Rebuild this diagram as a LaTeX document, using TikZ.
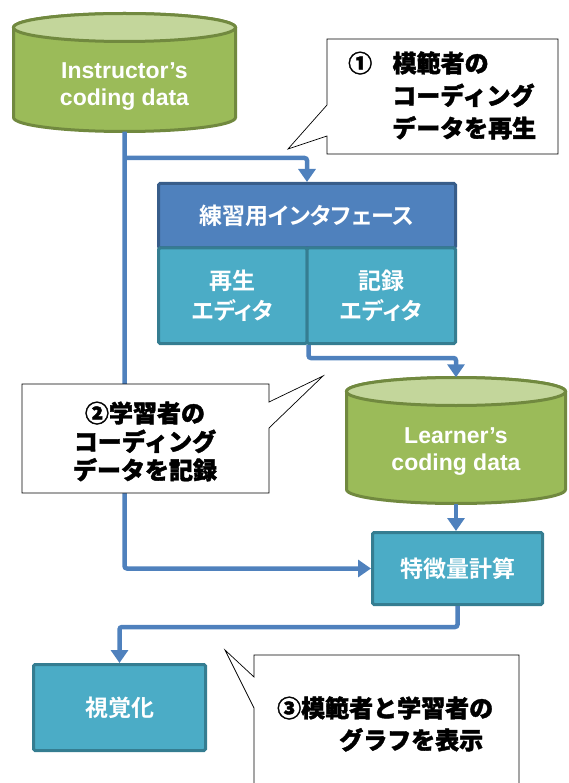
\documentclass[tikz,border=0pt]{standalone}
\usepackage{fontspec}
\setmainfont{Liberation Sans}
\newfontfamily\jpbox[RawFeature=+palt]{Noto Sans CJK JP Bold}
\newfontfamily\jpnote[FakeBold=1.6]{Noto Sans CJK JP Black}
\usepackage{tikz}
\usetikzlibrary{arrows.meta}

\definecolor{cylgreen}{HTML}{9BBB59}
\definecolor{cyltop}{HTML}{C3D69B}
\definecolor{cylline}{HTML}{71893F}
\definecolor{ifblue}{HTML}{4F81BD}
\definecolor{ifline}{HTML}{385D8A}
\definecolor{boxteal}{HTML}{4BACC6}
\definecolor{boxline}{HTML}{357D91}
\definecolor{flow}{HTML}{4F81BD}

\begin{document}
\begin{tikzpicture}[x=1pt, y=-1pt,
    box/.style={draw=boxline, fill=boxteal, line width=3pt, rounded corners=1.5pt,
        text=white, font=\jpbox\fontsize{23}{30}\selectfont, align=center, inner sep=0pt},
    head/.style={box, draw=ifline, fill=ifblue},
    cyl/.style={draw=none, inner sep=0pt},
    cyltext/.style={text=white, font=\bfseries\fontsize{23}{27}\selectfont, align=center, inner sep=0pt},
    flowline/.style={draw=flow, line width=4.5pt, rounded corners=2.5pt, -{Triangle[width=17pt,length=13pt]}},
    note/.style={draw=black, line width=0.7pt, fill=white},
    notetext/.style={font=\jpnote\fontsize{24}{#1}\selectfont, inner sep=0pt}]
    \useasboundingbox (0,0) rectangle (568,783);

    % Data stores
    \path[fill=cylgreen, draw=cylline, line width=3pt] (13.5,27.5) -- (13.5,117.5)
        arc[start angle=180, end angle=360, x radius=111pt, y radius=14pt] -- (235.5,27.5)
        arc[start angle=0, end angle=180, x radius=111pt, y radius=14pt] -- cycle;
    \path[fill=cyltop, draw=cylline, line width=3pt] (124.5,27.5) ellipse[x radius=111pt, y radius=14pt];
    \node[cyl, minimum width=222pt, minimum height=118pt] (inst) at (124.5,72.5) {};
    \node[cyltext] (instlbl) at (124.5,87) {Instructor’s\\coding data};

    \path[fill=cylgreen, draw=cylline, line width=3pt] (346.5,391.5) -- (346.5,489.5)
        arc[start angle=180, end angle=360, x radius=109.5pt, y radius=14pt] -- (565.5,391.5)
        arc[start angle=0, end angle=180, x radius=109.5pt, y radius=14pt] -- cycle;
    \path[fill=cyltop, draw=cylline, line width=3pt] (456,391.5) ellipse[x radius=109.5pt, y radius=14pt];
    \node[cyl, minimum width=219pt, minimum height=126pt] (lrn) at (456,440.5) {};
    \node[cyltext] (lrnlbl) at (456,452) {Learner’s\\coding data};

    % Nodes
    \node[head, minimum width=297pt, minimum height=64.5pt] (iface) at (307,215.75) {練習用インタフェース};
    \node[box, minimum width=148.5pt, minimum height=95.5pt] (play) at (232.75,295.75) {再生\\エディタ};
    \node[box, minimum width=148.5pt, minimum height=95.5pt] (rec) at (381.25,295.75) {記録\\エディタ};
    \node[box, minimum width=170pt, minimum height=72pt] (feat) at (457.5,568.5) {特徴量計算};
    \node[box, minimum width=172pt, minimum height=86pt] (vis) at (119.5,707.5) {視覚化};
    \coordinate (split) at (124.5,158);

    % Lines
    \draw[flowline] (inst.south) |- (feat.west);
    \draw[flowline] (split) -| (iface.north);
    \draw[flowline] (play.south east) -- (play.south east |- 0,358) -| (lrn.north);
    \draw[flowline] (lrn.south) -- (lrn.south |- feat.north);
    \draw[flowline] (feat.south) -- (feat.south |- 0,627) -| (vis.north);

    % Callouts
    \path[note] (327,39) -- (558,39) -- (558,154) -- (327,154) -- (327,136) -- (288,149) -- (327,105) -- cycle;
    \node[notetext=32.5, anchor=west, align=left] (note1) at (348,95.5)
        {①\hspace{20.5pt}模範者の\\\hspace*{44pt}コーディング\\\hspace*{44pt}データを再生};

    \path[note] (22,384) -- (269,384) -- (269,402) -- (323,376) -- (269,428) -- (269,493) -- (22,493) -- cycle;
    \node[notetext=28.5, align=center] (note2) at (145,441.5) {②学習者の\\コーディング\\データを記録};

    \path[note] (254,800) -- (254,708) -- (225,650) -- (254,677) -- (254,655) -- (519,655) -- (519,800) -- cycle;
    \node[notetext=32, anchor=west, align=left] (note3) at (277,724)
        {③模範者と学習者の\\\hspace*{62pt}グラフを表示};
\end{tikzpicture}
\end{document}
